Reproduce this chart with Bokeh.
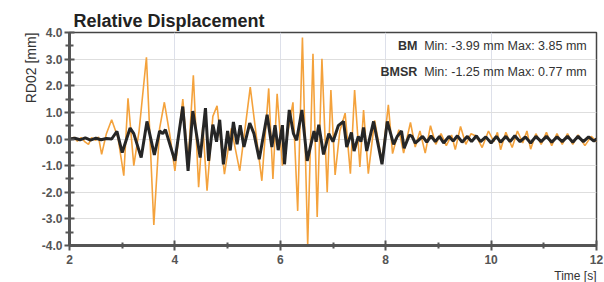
from bokeh.plotting import figure
from bokeh.models import Label, NumeralTickFormatter, FixedTicker, Range1d, Title
from bokeh.embed import file_html
from bokeh.resources import INLINE

# ---- data ----
bm_t = [2.00, 2.08, 2.15, 2.22, 2.30, 2.36, 2.42, 2.50, 2.55, 2.61, 2.70, 2.80, 2.92,
        3.03, 3.11, 3.22, 3.32, 3.46, 3.60, 3.71, 3.80, 3.90, 4.00, 4.15, 4.25, 4.35,
        4.45, 4.53, 4.61, 4.72, 4.80, 4.94, 5.07, 5.23, 5.43, 5.65, 5.78, 5.86, 5.94,
        6.04, 6.14, 6.24, 6.33, 6.42, 6.52, 6.62, 6.70, 6.79, 6.89, 6.96, 7.04, 7.13,
        7.23, 7.33, 7.41, 7.51, 7.58, 7.67, 7.79, 7.93, 8.05, 8.13, 8.25, 8.34, 8.47,
        8.56, 8.65, 8.75, 8.85, 8.95, 9.05, 9.15, 9.25, 9.32, 9.42, 9.52, 9.62, 9.72,
        9.83, 9.95, 10.05, 10.12, 10.18, 10.28, 10.40, 10.50, 10.60, 10.68, 10.75,
        10.85, 10.95, 11.05, 11.15, 11.25, 11.35, 11.45, 11.55, 11.65, 11.78, 11.90, 12.00]
bm_v = [0.00, 0.06, -0.08, 0.05, -0.12, -0.20, 0.05, -0.05, 0.08, -0.58, 0.20, 0.72, 0.05,
        -1.38, 1.53, -1.00, 0.30, 3.07, -3.23, 0.40, 1.38, 0.20, -1.20, 1.50, -0.90, 2.39,
        -1.81, 0.50, -1.94, 0.85, 1.25, -1.32, 0.40, -1.20, 1.95, -1.57, 1.90, -1.50, 1.70,
        -1.00, 0.20, 1.38, -2.70, 3.81, -3.98, 3.20, -2.93, 3.01, -2.00, 1.84, -1.35, 0.30,
        0.97, -1.30, 1.84, -1.05, 1.09, -1.30, 0.70, -0.85, 1.28, -0.55, 0.35, -0.53, 0.62,
        -0.30, 0.30, -0.53, 0.50, -0.20, 0.20, -0.25, 0.15, -0.40, 0.47, -0.20, 0.20, 0.10,
        -0.32, 0.30, -0.10, 0.25, -0.40, 0.25, -0.32, 0.30, -0.15, 0.30, -0.38,
        0.20, -0.20, 0.25, -0.25, 0.20, -0.20, 0.20, -0.20, 0.15, -0.25, 0.10, -0.10]

bmsr_t = [2.00, 2.10, 2.20, 2.30, 2.40, 2.50, 2.60, 2.70, 2.80, 2.90, 3.00, 3.15, 3.22,
          3.36, 3.47, 3.61, 3.71, 3.77, 3.82, 4.00, 4.15, 4.25, 4.34, 4.48, 4.58, 4.64,
          4.72, 4.79, 4.85, 4.92, 5.00, 5.05, 5.11, 5.18, 5.24, 5.31, 5.42, 5.50, 5.60,
          5.75, 5.84, 5.90, 5.96, 6.04, 6.08, 6.17, 6.25, 6.31, 6.41, 6.51, 6.64, 6.68,
          6.73, 6.82, 6.92, 7.00, 7.10, 7.20, 7.26, 7.35, 7.40, 7.48, 7.53, 7.58, 7.64,
          7.77, 7.93, 8.03, 8.15, 8.22, 8.30, 8.35, 8.45, 8.50, 8.56, 8.62, 8.70, 8.78,
          8.86, 8.94, 9.02, 9.10, 9.20, 9.28, 9.36, 9.45, 9.55, 9.63, 9.72, 9.80, 9.90,
          10.00, 10.10, 10.18, 10.28, 10.36, 10.45, 10.55, 10.65, 10.75, 10.85, 10.95,
          11.05, 11.15, 11.25, 11.35, 11.45, 11.55, 11.65, 11.75, 11.85, 11.95, 12.00]
bmsr_v = [0.00, 0.03, -0.03, 0.04, -0.04, 0.03, -0.03, 0.02, 0.00, 0.29, -0.51, 0.41, 0.20,
          -0.70, 0.66, -0.60, 0.30, 0.20, 0.35, -0.82, 1.22, -1.20, 1.05, -0.70, 1.16, -0.82,
          0.54, -0.10, 0.72, -0.95, 0.30, -0.43, 0.64, -0.20, 0.52, -0.30, 0.60, 0.20, -0.76,
          0.91, -0.30, 0.52, -0.42, 0.52, -0.95, 1.09, 0.20, -0.05, 1.09, -0.82, 0.30, -0.10,
          0.54, -0.58, 0.20, -0.10, 0.50, 0.66, -0.30, 0.25, -0.45, 0.10, -0.10, 0.43, -0.45,
          0.66, -0.95, 0.66, -0.20, 0.10, 0.30, -0.35, 0.15, 0.10, -0.15, -0.05, 0.10, -0.12,
          0.12, -0.10, 0.10, -0.15, 0.10, -0.08, 0.12, -0.12, 0.10, -0.10, 0.12, -0.10, 0.08,
          -0.15, 0.10, -0.12, 0.10, -0.10, 0.12, -0.10, 0.08, -0.15, 0.10, -0.10,
          0.10, -0.12, 0.08, -0.10, 0.10, -0.12, 0.10, -0.10, 0.08, -0.08, 0.00]

x_ticks = [2, 4, 6, 8, 10, 12]
y_ticks = [-4.0, -3.0, -2.0, -1.0, 0.0, 1.0, 2.0, 3.0, 4.0]

title_text = "Relative Displacement"
y_label_text = "RD02 [mm]"
x_label_text = "Time [s]"
legend_names = ["BM", "BMSR"]
legend_stats = ["Min: -3.99 mm Max: 3.85 mm", "Min: -1.25 mm Max: 0.77 mm"]

FONT = "Liberation Sans"
AXIS_COL = "#555555"

p = figure(width=604, height=282, output_backend="svg", toolbar_location=None,
           x_range=Range1d(2, 12), y_range=Range1d(-4, 4),
           min_border_left=69, min_border_right=8, min_border_top=32, min_border_bottom=35)
p.background_fill_color = "white"
p.border_fill_color = "white"
p.outline_line_color = "#444444"
p.outline_line_width = 1.5

# grid
p.xgrid.ticker = FixedTicker(ticks=x_ticks)
p.ygrid.ticker = FixedTicker(ticks=y_ticks)
p.xgrid.grid_line_color = "#dde0ea"
p.ygrid.grid_line_color = "#dedede"

# axes
p.xaxis.ticker = FixedTicker(ticks=x_ticks, minor_ticks=[3, 5, 7, 9, 11])
p.yaxis.ticker = FixedTicker(ticks=y_ticks,
                             minor_ticks=[-3.5, -2.5, -1.5, -0.5, 0.5, 1.5, 2.5, 3.5])
p.yaxis.formatter = NumeralTickFormatter(format="0.0")
for ax in (p.xaxis, p.yaxis):
    ax.axis_line_color = AXIS_COL
    ax.axis_line_width = 3
    ax.major_tick_line_color = AXIS_COL
    ax.major_tick_line_width = 2
    ax.minor_tick_line_color = AXIS_COL
    ax.minor_tick_line_width = 2
    ax.major_label_text_font = FONT
    ax.major_label_text_font_style = "bold"
    ax.major_label_text_font_size = "12px"
    ax.major_label_text_color = "#555555"
p.yaxis.major_tick_in = 5
p.yaxis.major_tick_out = 5
p.yaxis.minor_tick_in = 4
p.yaxis.minor_tick_out = 4
p.yaxis.major_label_standoff = 2
p.xaxis.major_tick_in = 5
p.xaxis.major_tick_out = 5
p.xaxis.minor_tick_in = 3
p.xaxis.minor_tick_out = 3
p.xaxis.major_label_standoff = 4

# series
p.line(bm_t, bm_v, line_color="#f4a23c", line_width=1.6)
p.line(bmsr_t, bmsr_v, line_color="#262626", line_width=3)

# titles / axis labels (as side panels)
p.add_layout(Title(text=title_text, align="left", offset=4, standoff=3,
                   text_font=FONT, text_font_style="bold", text_font_size="18px",
                   text_color="#222222"), "above")
p.add_layout(Title(text=y_label_text, align="right", standoff=0,
                   text_font=FONT, text_font_style="normal", text_font_size="14px",
                   text_color="#333333"), "left")
# blank spacer panel on the far left
p.add_layout(Title(text=" ", standoff=0, text_font=FONT, text_font_size="14px"), "left")
p.add_layout(Title(text=x_label_text, align="right", standoff=0,
                   text_font=FONT, text_font_style="normal", text_font_size="12px",
                   text_color="#333333"), "below")

# legend-like stats inside the frame
for i, (nm, st) in enumerate(zip(legend_names, legend_stats)):
    yy = 3.5 - i
    p.add_layout(Label(x=8.60, y=yy, text=nm, text_font=FONT, text_font_style="bold",
                       text_font_size="12.5px", text_color="#333333",
                       text_align="right", text_baseline="middle"))
    p.add_layout(Label(x=8.73, y=yy, text=st, text_font=FONT,
                       text_font_size="12.5px", text_color="#333333",
                       text_align="left", text_baseline="middle"))

open("out.html", "w").write(file_html(p, INLINE))
